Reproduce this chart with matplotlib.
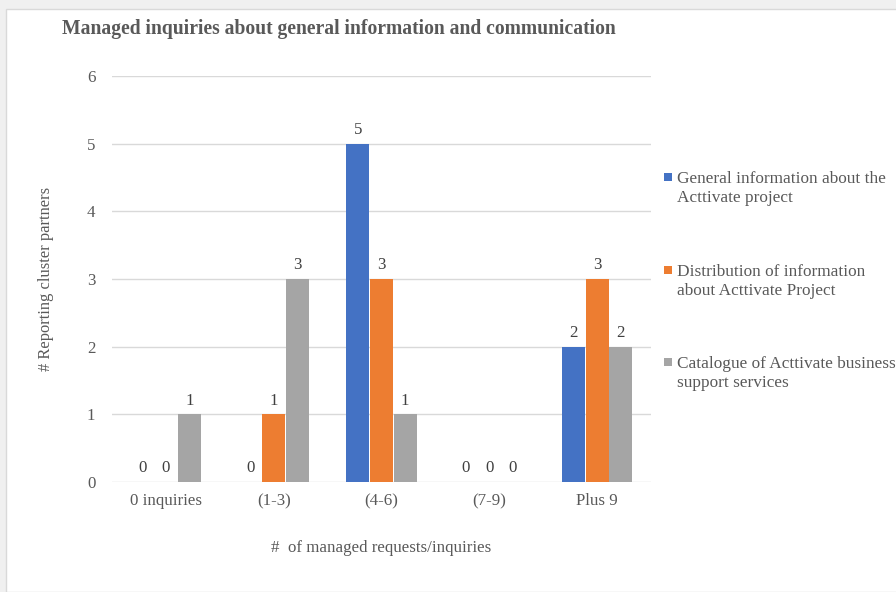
import numpy as np
import matplotlib.pyplot as plt
from matplotlib.patches import Rectangle

categories = ['0 inquiries', '(1-3)', '(4-6)', '(7-9)', 'Plus 9']
series_names = ['General information about the\nActtivate project',
                'Distribution of information\nabout Acttivate Project',
                'Catalogue of Acttivate business\nsupport services']
general_info = [0, 0, 5, 0, 2]
distribution = [0, 1, 3, 0, 3]
catalogue = [1, 3, 1, 0, 2]
yticks = [0, 1, 2, 3, 4, 5, 6]

colors = ['#4472C4', '#ED7D31', '#A5A5A5']
txt = '#595959'
fs = 12.2

plt.rcParams['font.family'] = ['Liberation Serif', 'DejaVu Serif']

W, H = 896, 592
fig = plt.figure(figsize=(W / 100, H / 100), dpi=100)
fig.patch.set_facecolor('#f0f0f0')
# white chart area with a thin frame
fig.patches.append(Rectangle((6 / W, 0), 1, 1 - 9 / H, transform=fig.transFigure,
                             facecolor='white', edgecolor='#d9d9d9', lw=1, zorder=-10))

ax = fig.add_axes([112 / W, 1 - 482 / H, (651 - 112) / W, (482 - 76) / H])
ax.set_facecolor('none')

x = np.arange(len(categories))
w = 0.219
for i, vals in enumerate([general_info, distribution, catalogue]):
    bars = ax.bar(x + (i - 1) * w, vals, width=w * 0.97, color=colors[i],
                  label=series_names[i], zorder=3)
    ax.bar_label(bars, labels=[str(v) for v in vals], padding=4, fontsize=fs, color='#404040')

ax.set_xlim(-0.5, 4.5)
ax.set_ylim(0, 6)
ax.set_yticks(yticks)
ax.set_xticks(x)
ax.set_xticklabels(categories)
ax.tick_params(length=0, labelsize=fs, colors=txt)
ax.tick_params(axis='y', pad=12)
ax.tick_params(axis='x', pad=8)
ax.grid(True, axis='y', color='#d9d9d9', lw=1, zorder=0)
for s in ax.spines.values():
    s.set_visible(False)

ax.set_ylabel('# Reporting cluster partners', fontsize=11.9, color=txt, labelpad=24)
ax.set_xlabel('#  of managed requests/inquiries', fontsize=fs, color=txt, labelpad=22)

fig.text(62 / W, 1 - 29 / H, 'Managed inquiries about general information and communication',
         fontsize=14.1, fontweight='bold', color=txt, va='center', ha='left')

# legend on the right: square key aligned with the first text line
leg_top = [177, 270, 362]
for name, c, y in zip(series_names, colors, leg_top):
    fig.patches.append(Rectangle((664 / W, 1 - (y + 4) / H), 8 / W, 8 / H,
                                 transform=fig.transFigure, facecolor=c, edgecolor='none'))
    fig.text(677 / W, 1 - (y - 6) / H, name, fontsize=12.4, color=txt,
             ha='left', va='top', linespacing=1.22)

fig.savefig('out.png', dpi=100, facecolor=fig.get_facecolor())
